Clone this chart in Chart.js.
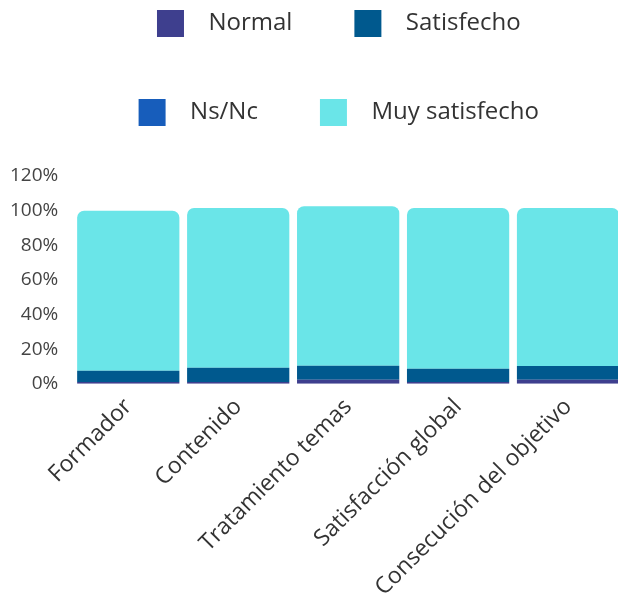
<!DOCTYPE html>
<html>
<head>
<meta charset="utf-8">
<script src="https://cdn.jsdelivr.net/npm/chart.js@4"></script>
<style>
  html, body { margin: 0; background: #ffffff; overflow: hidden; }
  /* the original plot runs a few pixels past the right edge */
  #wrap { width: 618px; height: 611px; overflow: hidden; }
</style>
</head>
<body>
<div id="wrap"><canvas id="satisfactionChart" width="623" height="611"></canvas></div>
<script>
// Categories and series (percent of answers)
const categories = ['Formador', 'Contenido', 'Tratamiento temas', 'Satisfacción global', 'Consecución del objetivo'];
const normal = [1, 1, 2.3, 1, 2.3];
const satisfecho = [6.5, 8.3, 8.1, 7.7, 8];
const nsNc = [0, 0, 0, 0, 0];
const muySatisfecho = [92.5, 92.2, 92.1, 92.8, 91.2];
const yTicks = [0, 20, 40, 60, 80, 100, 120];

const fontFamily = "'Open Sans', sans-serif";

document.addEventListener('DOMContentLoaded', function() {
    const ctx = document.getElementById('satisfactionChart').getContext('2d');
    new Chart(ctx, {
        type: 'bar',
        data: {
            labels: categories,
            datasets: [
                { label: 'Normal', data: normal, backgroundColor: '#3e3f8e' },
                { label: 'Satisfecho', data: satisfecho, backgroundColor: '#00598e' },
                { label: 'Ns/Nc', data: nsNc, backgroundColor: '#175dbb' },
                {
                    label: 'Muy satisfecho',
                    data: muySatisfecho,
                    backgroundColor: '#6ae5e8',
                    borderRadius: { topLeft: 7, topRight: 7, bottomLeft: 0, bottomRight: 0 },
                    borderSkipped: 'start'
                }
            ]
        },
        options: {
            responsive: false,
            animation: false,
            layout: {
                padding: { top: -52, left: -5, right: 0, bottom: 0 }
            },
            datasets: {
                bar: {
                    barPercentage: 0.93,
                    categoryPercentage: 1
                }
            },
            plugins: {
                legend: {
                    position: 'top',
                    fullSize: false,
                    labels: {
                        boxWidth: 27,
                        boxHeight: 27,
                        padding: 62,
                        color: '#333333',
                        font: { family: fontFamily, size: 24 },
                        generateLabels: function(chart) {
                            const items = Chart.defaults.plugins.legend.labels.generateLabels(chart);
                            items.forEach((item, i) => {
                                // gap after the box, and a little tail on the row ends
                                item.text = '  ' + item.text + (i % 2 === 1 ? '   ' : '');
                                item.lineWidth = 0;
                            });
                            return items;
                        }
                    }
                },
                // empty spacer between legend and plot
                subtitle: {
                    display: true,
                    text: ' ',
                    position: 'top',
                    fullSize: false,
                    weight: 500,
                    font: { size: 1, lineHeight: 1 },
                    padding: { top: 39, bottom: 0 }
                },
                tooltip: { enabled: false }
            },
            scales: {
                x: {
                    stacked: true,
                    grid: { display: false, drawTicks: false },
                    border: { display: false },
                    ticks: {
                        minRotation: 45,
                        maxRotation: 45,
                        padding: 9.5,
                        color: '#333333',
                        font: { family: fontFamily, size: 23 }
                    }
                },
                y: {
                    stacked: true,
                    min: 0,
                    max: 120,
                    grid: { display: false, drawTicks: false },
                    border: { display: false },
                    afterBuildTicks: function(axis) {
                        axis.ticks = yTicks.map(v => ({ value: v }));
                    },
                    ticks: {
                        padding: 15,
                        color: '#444444',
                        font: { family: fontFamily, size: 19 },
                        callback: function(value) {
                            return value + '%';
                        }
                    }
                }
            }
        }
    });
});
</script>
</body>
</html>
